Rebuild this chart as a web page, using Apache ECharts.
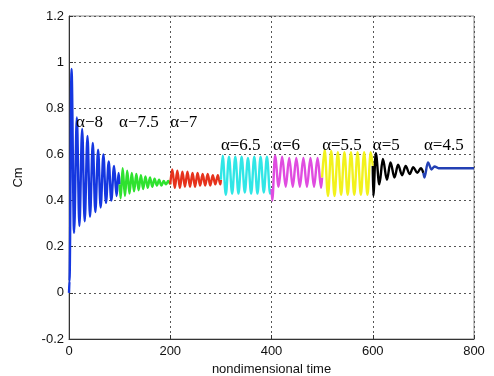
<!DOCTYPE html>
<html>
<head>
<meta charset="utf-8">
<script src="https://cdn.jsdelivr.net/npm/echarts@6/dist/echarts.min.js"></script>
<style>
  html, body { margin: 0; padding: 0; background: #fff; }
  #chart { width: 494px; height: 376px; }
</style>
</head>
<body>
<div id="chart"></div>
<script>
// Cm response for a stepped angle of attack; each alpha stage lasts 100 time units.
// Times and Cm values of the turning points of each stage.
const a8Time  = [0, 1, 5, 10, 15.5, 20.5, 26, 31, 36.5, 41.5, 47, 52, 57.5, 62.5, 68, 73, 78.5, 83.5, 89, 94, 98, 100];
const a8Cm    = [0.0, 0.05, 0.97, 0.26, 0.76, 0.29, 0.71, 0.31, 0.68, 0.33, 0.65, 0.35, 0.62, 0.37, 0.60, 0.39, 0.57, 0.40, 0.55, 0.42, 0.52, 0.47];

const a75Time = [100, 102, 106, 110.5, 115, 119.5, 124, 128.5, 133, 137.5, 142, 146.5, 151, 155.5, 160, 164.5, 169, 173.5, 178, 182.5, 187, 191.5, 196, 200];
const a75Cm   = [0.47, 0.41, 0.54, 0.42, 0.53, 0.43, 0.52, 0.44, 0.515, 0.445, 0.51, 0.45, 0.505, 0.455, 0.50, 0.46, 0.495, 0.465, 0.49, 0.465, 0.485, 0.47, 0.485, 0.47];

const a7Time  = [200, 204, 209, 214, 219, 224, 229, 234, 239, 244, 249, 254, 259, 264, 269, 274, 279, 284, 289, 294, 299, 300];
const a7Cm    = [0.47, 0.535, 0.455, 0.53, 0.455, 0.525, 0.46, 0.525, 0.46, 0.52, 0.46, 0.52, 0.465, 0.515, 0.465, 0.515, 0.465, 0.51, 0.47, 0.51, 0.47, 0.49];

const a65Time = [300, 303.5, 309.75, 316, 322.25, 328.5, 334.75, 341, 347.25, 353.5, 359.75, 366, 372.25, 378.5, 384.75, 391, 397.25, 400];
const a65Cm   = [0.49, 0.595, 0.425, 0.59, 0.43, 0.59, 0.43, 0.59, 0.435, 0.585, 0.43, 0.59, 0.43, 0.59, 0.435, 0.59, 0.43, 0.45];

const a6Time  = [400, 401.5, 407, 414, 421, 428, 435, 442, 449, 456, 463, 470, 477, 484, 491, 498, 500];
const a6Cm    = [0.45, 0.40, 0.595, 0.46, 0.59, 0.46, 0.585, 0.46, 0.585, 0.46, 0.585, 0.46, 0.585, 0.46, 0.585, 0.455, 0.50];

const a55Time = [500, 505, 511.5, 518, 524.5, 531, 537.5, 544, 550.5, 557, 563.5, 570, 576.5, 583, 589.5, 596, 600];
const a55Cm   = [0.50, 0.62, 0.42, 0.615, 0.42, 0.61, 0.425, 0.61, 0.425, 0.61, 0.425, 0.61, 0.425, 0.61, 0.425, 0.61, 0.55];

const a5Time  = [600, 601, 606, 613, 620, 628, 635, 643, 650, 658, 665, 673, 680, 688, 695, 700];
const a5Cm    = [0.55, 0.42, 0.605, 0.47, 0.58, 0.49, 0.565, 0.50, 0.555, 0.51, 0.55, 0.515, 0.545, 0.52, 0.54, 0.52];

const a45Time = [700, 702, 709, 716, 722, 730, 760, 800];
const a45Cm   = [0.52, 0.50, 0.565, 0.535, 0.548, 0.54, 0.54, 0.54];

// Stage labels and where they sit (time, Cm)
const stageText  = ['α−8', 'α−7.5', 'α−7', 'α=6.5', 'α=6', 'α=5.5', 'α=5', 'α=4.5'];
const stageTextT = [14, 99, 200, 300, 403, 500, 600, 701];
const stageTextY = [0.74, 0.74, 0.74, 0.64, 0.64, 0.64, 0.64, 0.64];

const xTicks = [0, 200, 400, 600, 800];
const yTicks = [-0.2, 0, 0.2, 0.4, 0.6, 0.8, 1, 1.2];

const stages = [
  { t: a8Time,  v: a8Cm,  color: '#1537e0' },
  { t: a75Time, v: a75Cm, color: '#2ee22e' },
  { t: a7Time,  v: a7Cm,  color: '#e6321c' },
  { t: a65Time, v: a65Cm, color: '#30e6e6' },
  { t: a6Time,  v: a6Cm,  color: '#e04ce0' },
  { t: a55Time, v: a55Cm, color: '#f2f21c' },
  { t: a5Time,  v: a5Cm,  color: '#000000' },
  { t: a45Time, v: a45Cm, color: '#2340b4' }
];

const lineSeries = stages.map(s => ({
  type: 'line',
  data: s.t.map((t, i) => [t, s.v[i]]),
  showSymbol: false,
  smooth: 0.35,
  smoothMonotone: 'x',
  lineStyle: { color: s.color, width: 2.4 },
  z: 3,
  animation: false
}));

const labelSeries = {
  type: 'scatter',
  symbolSize: 0,
  itemStyle: { opacity: 1 },
  data: stageText.map((txt, i) => ({ value: [stageTextT[i], stageTextY[i]], name: txt })),
  label: {
    show: true,
    position: 'right',
    distance: 0,
    formatter: p => p.name,
    fontFamily: 'Liberation Serif',
    fontSize: 17,
    color: '#000'
  },
  z: 5,
  animation: false
};

const dotted = { type: [2, 3], color: '#555', width: 1 };

const chart = echarts.init(document.getElementById('chart'));
chart.setOption({
  animation: false,
  grid: {
    left: 69, right: 20, top: 16, bottom: 37,
    outerBoundsMode: 'none',
    show: true, borderColor: '#8a8a8a', borderWidth: 1
  },
  xAxis: {
    type: 'value',
    min: xTicks[0], max: xTicks[xTicks.length - 1], interval: 200,
    name: 'nondimensional time',
    nameLocation: 'middle',
    nameGap: 22,
    nameTextStyle: { fontFamily: 'Liberation Sans', fontSize: 13, color: '#111' },
    axisLine: { onZero: false, lineStyle: { color: '#333' } },
    axisTick: { inside: true, length: 4, lineStyle: { color: '#333' } },
    axisLabel: { fontFamily: 'Liberation Sans', fontSize: 13, color: '#111', margin: 6 },
    splitLine: { show: true, lineStyle: dotted }
  },
  yAxis: {
    type: 'value',
    min: yTicks[0], max: yTicks[yTicks.length - 1], interval: 0.2,
    name: 'Cm',
    nameLocation: 'middle',
    nameGap: 44,
    nameTextStyle: { fontFamily: 'Liberation Sans', fontSize: 13, color: '#111' },
    axisLine: { onZero: false, lineStyle: { color: '#333' } },
    axisTick: { inside: true, length: 4, lineStyle: { color: '#333' } },
    axisLabel: { fontFamily: 'Liberation Sans', fontSize: 13, color: '#111', margin: 5 },
    splitLine: { show: true, lineStyle: dotted }
  },
  series: lineSeries.concat([labelSeries])
});
</script>
</body>
</html>
